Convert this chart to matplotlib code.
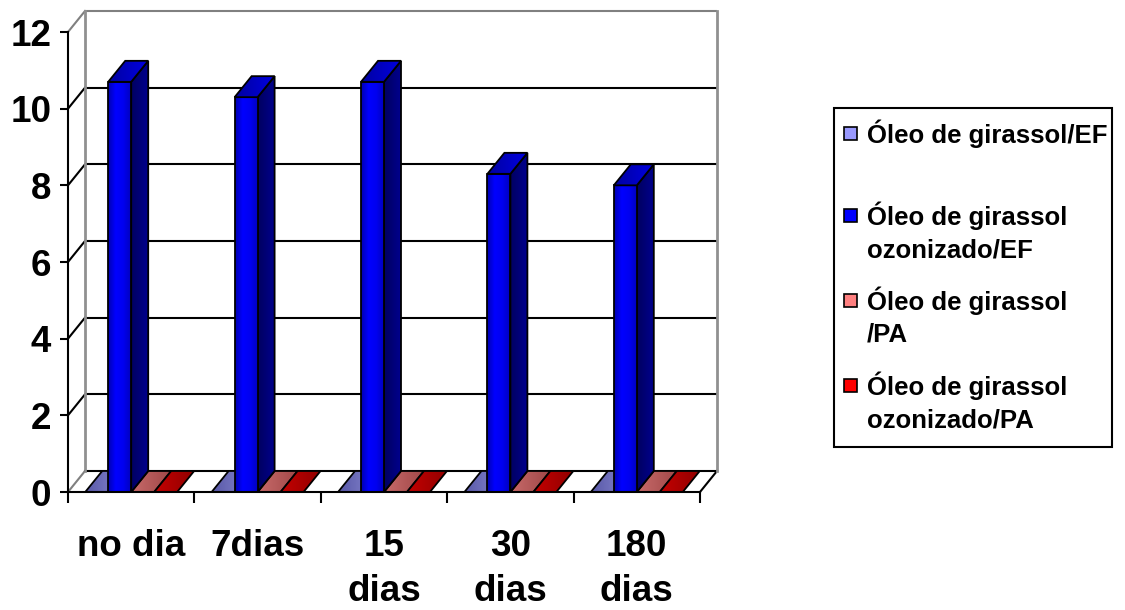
import numpy as np
import matplotlib
matplotlib.use("Agg")
import matplotlib.pyplot as plt
from matplotlib.patches import Polygon, Rectangle
from matplotlib.colors import LinearSegmentedColormap

plt.rcParams['font.family'] = ['Liberation Sans', 'DejaVu Sans']
plt.rcParams['font.weight'] = 'bold'

categories = ['no dia', '7dias', '15\ndias', '30\ndias', '180\ndias']
series_names = ['Óleo de girassol/EF',
                'Óleo de girassol\nozonizado/EF',
                'Óleo de girassol\n/PA',
                'Óleo de girassol\nozonizado/PA']
girassol_ef = [0, 0, 0, 0, 0]
ozonizado_ef = [10.7, 10.3, 10.7, 8.3, 8.0]
girassol_pa = [0, 0, 0, 0, 0]
ozonizado_pa = [0, 0, 0, 0, 0]
y_ticks = [0, 2, 4, 6, 8, 10, 12]

series = [girassol_ef, ozonizado_ef, girassol_pa, ozonizado_pa]
legend_colors = ['#9999ff', '#0000ff', '#ff8080', '#ff0000']
# (front, side, top) gradients for each series
shades = [
    (['#7070c0', '#9999ff'], ['#404080', '#505098'], ['#5858a8', '#8888d0']),
    (['#0000b0', '#0000ff', '#0000f0', '#0000c0'], ['#000060', '#000090'], ['#0000a0', '#0000e0']),
    (['#d07070', '#ff8080'], ['#804040', '#985050'], ['#c86a6a', '#a04848']),
    (['#c00000', '#ff0000'], ['#800000', '#900000'], ['#c40000', '#920000']),
]

W, H = 1125, 610
fig = plt.figure(figsize=(W / 100, H / 100), dpi=100)
ax = fig.add_axes([68 / W, (H - 492) / H, 632 / W, 460 / H])
ax.patch.set_visible(False)

# depth offset of the back wall, in data units
DX, DY = 0.1345, 0.548
n = len(categories)
ymax = y_ticks[-1]


def face(verts, colors, z):
    poly = Polygon(verts, closed=True, facecolor='none', edgecolor='black',
                   lw=1.3, zorder=z + 0.01, joinstyle='miter')
    ax.add_patch(poly)
    xs = [v[0] for v in verts]
    ys = [v[1] for v in verts]
    if max(ys) - min(ys) < 1e-9:
        return
    cmap = LinearSegmentedColormap.from_list('f', colors)
    im = ax.imshow(np.linspace(0, 1, 128).reshape(1, -1), cmap=cmap,
                   extent=(min(xs), max(xs), min(ys), max(ys)),
                   aspect='auto', origin='lower', zorder=z,
                   interpolation='bilinear')
    im.set_clip_path(poly)


# back wall and side-wall gridlines
ax.add_patch(Polygon([(DX, DY), (n + DX, DY), (n + DX, ymax + DY), (DX, ymax + DY)],
                     closed=True, facecolor='white', edgecolor='none',
                     zorder=0.2, clip_on=False))
for v in y_ticks:
    c = '#808080' if v in (0, ymax) else 'black'
    if v != 0:
        ax.plot([DX, n + DX], [v + DY, v + DY], color=c, lw=1.5,
                zorder=0.5, clip_on=False, solid_capstyle='butt')
    ax.plot([0, DX], [v, v + DY], color=c, lw=1.5, zorder=0.5, clip_on=False)
ax.plot([DX, n + DX], [DY, DY], color='black', lw=1.5, zorder=0.5, clip_on=False)
ax.plot([DX, DX], [DY, ymax + DY], color='#909090', lw=2, zorder=0.6, clip_on=False)
ax.plot([n + DX, n + DX], [DY, ymax + DY], color='#909090', lw=2, zorder=0.6, clip_on=False)
ax.plot([n, n + DX], [0, DY], color='black', lw=1.5, zorder=0.5, clip_on=False)

# 3-D clustered columns, 150% gap width
bw = 1 / 5.5
for c in range(n):
    for s, vals in enumerate(series):
        v = vals[c]
        x0 = c + 0.75 * bw + s * bw
        x1 = x0 + bw
        z = 2 + v * 0.1 + s * 0.01
        fcol, scol, tcol = shades[s]
        if v > 0:
            face([(x1, 0), (x1 + DX, DY), (x1 + DX, v + DY), (x1, v)], scol, z)
            face([(x0, 0), (x1, 0), (x1, v), (x0, v)], fcol, z + 0.02)
        face([(x0, v), (x1, v), (x1 + DX, v + DY), (x0 + DX, v + DY)], tcol, z + 0.03)

ax.set_xlim(0, n)
ax.set_ylim(0, ymax)

for side in ('top', 'right'):
    ax.spines[side].set_visible(False)
for side in ('left', 'bottom'):
    ax.spines[side].set_color('black')
    ax.spines[side].set_linewidth(1.5)
    ax.spines[side].set_zorder(10)

ax.set_yticks(y_ticks)
ax.set_yticklabels([str(t) for t in y_ticks])
ax.tick_params(axis='y', length=6, width=1.5, pad=6, labelsize=26.5)

ax.set_xticks(np.arange(n + 1))
ax.set_xticklabels([])
ax.set_xticks(np.arange(n) + 0.5, minor=True)
ax.set_xticklabels(categories, minor=True, linespacing=1.36)
ax.tick_params(axis='x', which='major', length=8, width=1.5)
ax.tick_params(axis='x', which='minor', length=0, pad=27, labelsize=26.5)

# legend
fig.patches.append(Rectangle((834 / W, 1 - 447 / H), (1112 - 834) / W, (447 - 108) / H,
                             transform=fig.transFigure, facecolor='white',
                             edgecolor='black', lw=1.5))
baselines = [143, 225, 310, 395]
for name, col, b in zip(series_names, legend_colors, baselines):
    fig.patches.append(Rectangle((844 / W, 1 - (b - 3) / H), 13 / W, 13 / H,
                                 transform=fig.transFigure, facecolor=col,
                                 edgecolor='black', lw=1.2))
    for k, line in enumerate(name.split('\n')):
        fig.text(867 / W, 1 - (b + 32 * k) / H, line, fontsize=18.5,
                 fontweight='bold', ha='left', va='baseline')

fig.savefig('out.png', dpi=100)
